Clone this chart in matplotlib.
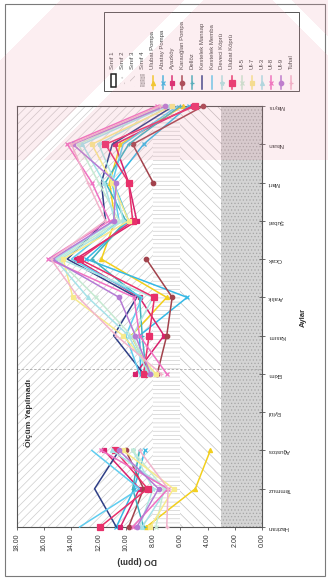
import numpy as np
import matplotlib
matplotlib.use("Agg")
import matplotlib.pyplot as plt
from matplotlib.patches import Rectangle

plt.rcParams['font.family'] = ['Liberation Sans', 'DejaVu Sans']
plt.rcParams['hatch.linewidth'] = 0.5

# ---------------------------------------------------------------- data
months = ['Haziran', 'Temmuz', 'Ağustos', 'Eylül', 'Ekim', 'Kasım',
          'Aralık', 'Ocak', 'Şubat', 'Mart', 'Nisan', 'Mayıs']
do_ticks = [0, 2, 4, 6, 8, 10, 12, 14, 16, 18]

class_names = ['Sınıf 1', 'Sınıf 2', 'Sınıf 3', 'Sınıf 4']
class_low = [8, 6, 3, 0]
class_high = [18, 8, 6, 3]

nan = np.nan
station_names = ['Ulubat Pompa', 'Abatay Pompa', 'Ayazköy', 'Karaoğlan Pompa',
                 'Dellöz', 'Kestelek Mansap', 'Kestelek Memba', 'Deveci Köprü',
                 'Ulubat Köprü', 'Ul-5', 'Ul-7', 'Ul-3', 'Ul-8', 'Ul-9', 'Tuhal']

ulubat_pompa    = [8.5, 4.9, 3.8, nan, 8.2, 9.6, 7.0, 11.8, 10.8, 11.2, 10.4, 5.8]
abatay_pompa    = [10.7, 9.4, 8.6, nan, 8.9, 9.0, 5.5, 12.9, 9.8, 10.9, 8.7, 5.4]
ayazkoy         = [10.4, 9.0, 11.6, nan, 9.3, 7.2, 9.0, 13.7, 9.2, 9.8, 10.8, 5.1]
karaoglan_pompa = [9.8, 8.7, 10.0, nan, 7.7, 7.0, 6.6, 8.5, nan, 8.0, 9.5, 4.3]
delloz          = [8.7, 9.5, 9.0, nan, 8.5, 8.8, 9.0, 12.5, 10.0, 11.5, 9.8, 6.0]
kestelek_mansap = [10.7, 12.3, 10.5, nan, 8.7, 10.9, 9.2, 14.3, 11.5, 11.8, 11.0, 6.5]
kestelek_memba  = [13.4, 9.0, 12.5, nan, 9.0, 10.0, 8.8, 14.0, 10.5, 11.0, 10.2, 6.2]
deveci_kopru    = [9.0, 8.0, 9.5, nan, 8.4, 9.5, 8.0, 14.8, 10.2, 10.8, 12.0, 6.8]
ulubat_kopru    = [11.9, 8.4, 10.8, nan, 8.7, 8.3, 7.9, 13.4, 9.5, 9.8, 11.5, 4.9]
ul5             = [7.8, 7.2, 9.5, nan, 8.0, 9.6, 12.2, 15.0, 10.5, 12.0, 13.5, 7.3]
ul7             = [8.2, 6.5, 10.2, nan, 7.8, 10.2, 13.9, 14.6, 9.8, 11.0, 12.5, 6.6]
ul3             = [8.8, 7.0, 11.0, nan, 8.3, 9.8, 12.8, 15.2, 10.8, 11.6, 13.2, 7.0]
ul8             = [9.5, 6.9, 11.8, nan, 7.0, 9.0, 9.4, 15.7, 11.2, 12.5, 14.3, 7.7]
ul9             = [9.2, 7.6, 10.5, nan, 8.2, 9.3, 10.5, 15.4, 10.9, 10.7, 13.9, 7.1]
tuhal           = [7.0, 6.9, 9.0, nan, 7.4, 10.7, 13.5, 15.5, 11.5, 12.8, 14.0, 7.5]

station_values = [ulubat_pompa, abatay_pompa, ayazkoy, karaoglan_pompa, delloz,
                  kestelek_mansap, kestelek_memba, deveci_kopru, ulubat_kopru,
                  ul5, ul7, ul3, ul8, ul9, tuhal]

# ---------------------------------------------------------------- styles
station_colors = ['#f2cf1d', '#35b9e6', '#d8226c', '#a2424c', '#3fb3bf',
                  '#2f3f86', '#5fcdf0', '#aee6e4', '#e8306a', '#c6ead2',
                  '#f7ea8c', '#a6e2e8', '#f070c2', '#b57ad4', '#f2b4cc']
station_markers = ['^', 'x', 's', 'o', '+', None, None, '*', 's', 'x',
                   's', '^', 'x', 'o', '+']
station_msize = [3.0, 3.2, 3.0, 3.2, 3.2, 0, 0, 3.2, 4.0, 3.0, 2.8, 2.8, 3.2, 3.2, 3.2]

class_face = ['white', 'white', 'white', '#d4d4d4']
class_hatch = ['////', '----', '\\\\\\', '.....']
class_hcolor = ['#cdcdcd', '#cfcfcf', '#c2c2c2', '#a6a6a6']
legend_hatch = [None, '...', '///', '......']

W, H = 328, 579
fig = plt.figure(figsize=(W / 100, H / 100), dpi=100)
fig.patch.set_facecolor('white')

# ---------------------------------------------------------------- main plot (rotated layout)
ax = fig.add_axes([17 / W, 1 - 527 / H, (262 - 17) / W, (527 - 106) / H])
ax.set_xlim(18, 0)
ax.set_ylim(0, len(months) - 1)

for lo, hi, fc, ht, hc in zip(class_low, class_high, class_face, class_hatch, class_hcolor):
    ax.axvspan(lo, hi, facecolor=fc, hatch=ht, edgecolor=hc, linewidth=0, zorder=0)

# boundary of the period without measurements
ax.axhline(4.13, color='#a8a8a8', lw=0.6, ls=(0, (3, 2)), zorder=1)

y_idx = np.arange(len(months))
for vals, col, mk, ms in zip(station_values, station_colors, station_markers, station_msize):
    ax.plot(vals, y_idx, color=col, lw=1.1, marker=mk, ms=ms,
            mew=0.9, mec=col, mfc=col, zorder=3, clip_on=False)

ax.set_xticks(do_ticks)
ax.set_xticklabels([f'{v:.2f}' for v in do_ticks], rotation=90, fontsize=5)
ax.yaxis.tick_right()
ax.set_yticks(y_idx)
ax.set_yticklabels(months, rotation=180, fontsize=4.4)
ax.tick_params(axis='x', direction='out', length=2.5, width=0.6, colors='#555555', pad=2)
ax.tick_params(axis='y', direction='inout', length=4, width=0.6, colors='#555555', pad=2)
for lab in ax.get_xticklabels() + ax.get_yticklabels():
    lab.set_color('#333333')
for sp in ax.spines.values():
    sp.set_color('#555555')
    sp.set_linewidth(0.8)

# ---------------------------------------------------------------- overlay in pixel coordinates
ov = fig.add_axes([0, 0, 1, 1], zorder=5)
ov.set_xlim(0, W)
ov.set_ylim(H, 0)
ov.axis('off')
ov.patch.set_alpha(0)

ov.add_patch(Rectangle((5, 4), 320, 572, fill=False, ec='#7a7a7a', lw=0.8))

ov.text(29, 413, 'Ölçüm Yapılmadı', rotation=90, fontsize=6, fontweight='bold',
        ha='center', va='center', color='#333333')
ov.text(137, 560, 'DO (ppm)', rotation=180, fontsize=6.2, fontweight='bold',
        ha='center', va='center', color='#333333')
ov.text(303, 317, 'Aylar', rotation=90, fontsize=5.6, fontweight='bold',
        ha='center', va='center', color='#333333')

# legend
ov.add_patch(Rectangle((104, 12), 195, 79, facecolor='white', ec='#555555', lw=0.7))
legend_labels = class_names + station_names
for i, lab in enumerate(legend_labels):
    x = 113 + i * 9.9
    if i < len(class_names):
        if i == 0:
            ov.add_patch(Rectangle((x - 2.5, 74), 5, 13, facecolor='white', ec='#222222', lw=1.1))
        else:
            ov.add_patch(Rectangle((x - 2.5, 74), 5, 13, facecolor=class_face[i],
                                   hatch=legend_hatch[i], ec=class_hcolor[i], lw=0))
    else:
        j = i - len(class_names)
        ov.plot([x, x], [76, 89], color=station_colors[j], lw=1.1)
        if station_markers[j] is not None:
            ov.plot([x], [82.5], marker=station_markers[j], ms=station_msize[j],
                    color=station_colors[j], mec=station_colors[j], mew=0.9)
    ov.text(x, 69, lab, rotation=90, rotation_mode='anchor', ha='left', va='center',
            fontsize=4.3, color='#444444')

# ---------------------------------------------------------------- pink diagonal tint at the top
yy, xx = np.mgrid[0:H, 0:W]
s = xx + yy
d = xx - yy
tint = (yy < 160) & ~(s < 60) & ~((s > 183) & (s < 203)) & ~((d > 272) & (d < 292))
rgba = np.zeros((H, W, 4))
rgba[..., 0] = 240 / 255
rgba[..., 1] = 150 / 255
rgba[..., 2] = 170 / 255
rgba[..., 3] = 0.16 * tint
wm = fig.add_axes([0, 0, 1, 1], zorder=10)
wm.imshow(rgba, extent=(0, W, H, 0), interpolation='nearest', aspect='auto')
wm.set_xlim(0, W)
wm.set_ylim(H, 0)
wm.axis('off')

fig.savefig('out.png', dpi=100)
